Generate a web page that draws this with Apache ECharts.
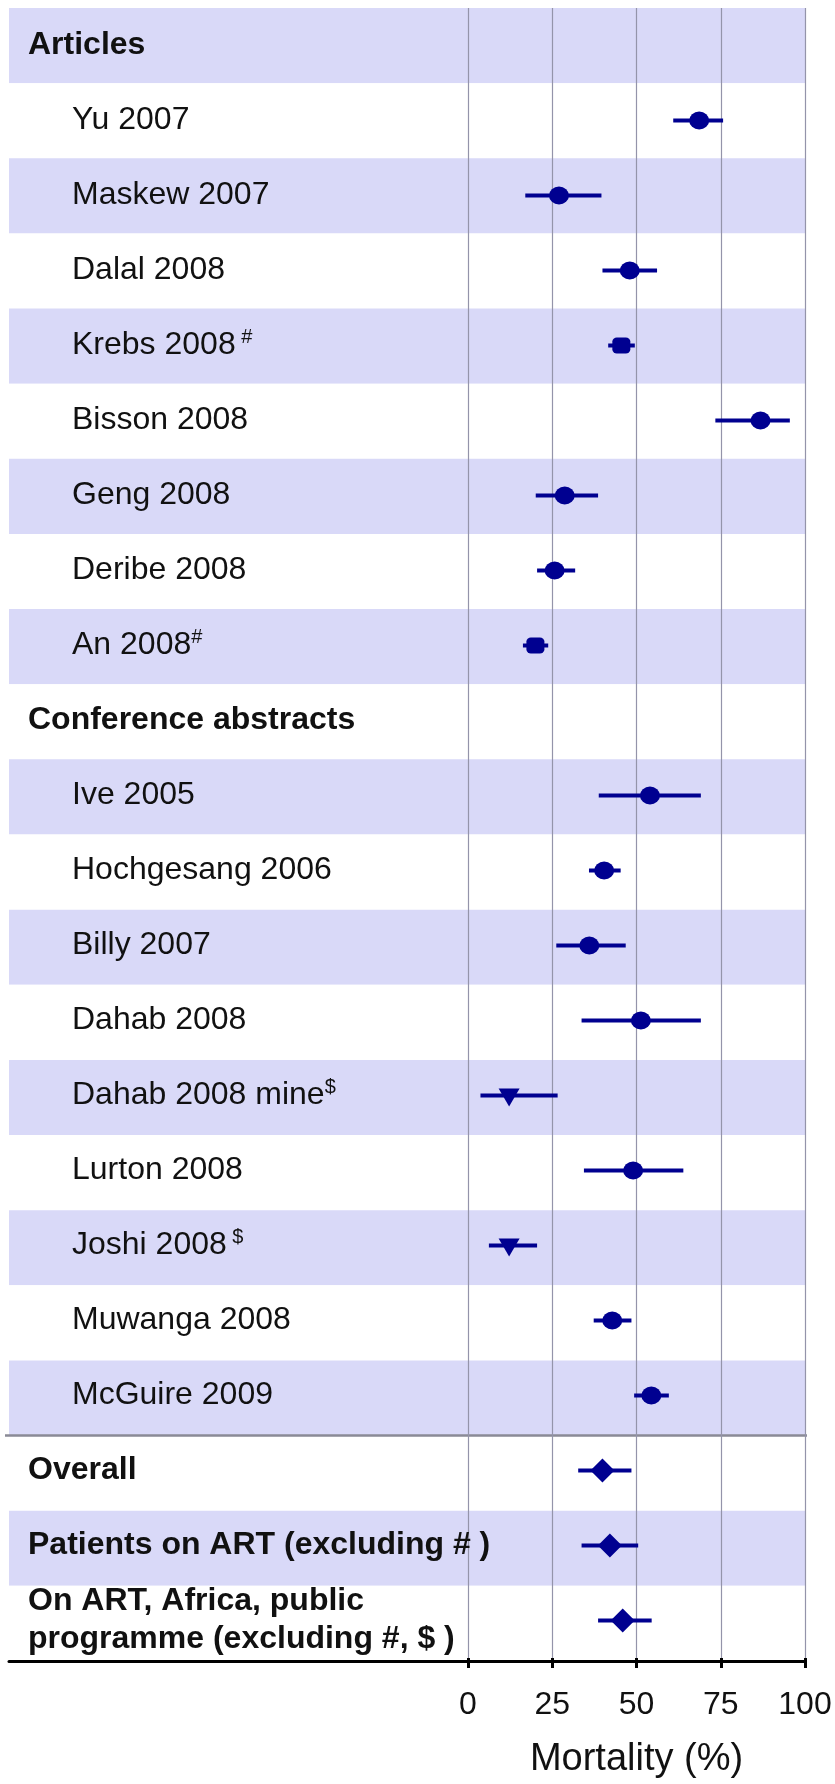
<!DOCTYPE html>
<html>
<head>
<meta charset="utf-8">
<script src="https://cdn.jsdelivr.net/npm/echarts@6/dist/echarts.min.js"></script>
<style>
html,body{margin:0;padding:0;background:#ffffff;}
#chart{width:835px;height:1784px;}
</style>
</head>
<body>
<div id="chart"></div>
<script>
// ---- data ----
const sectionTitles = ['Articles', 'Conference abstracts'];

const articleStudies = ['Yu 2007', 'Maskew 2007', 'Dalal 2008', 'Krebs 2008', 'Bisson 2008', 'Geng 2008', 'Deribe 2008', 'An 2008'];
const articleNotes   = ['', '', '', ' #', '', '', '', '#'];
const articleEst     = [68.6, 27.0, 48.0, 45.5, 86.8, 28.7, 25.7, 20.0];
const articleLow     = [60.9, 17.0, 39.9, 41.6, 73.4, 20.1, 20.5, 16.3];
const articleHigh    = [75.7, 39.6, 56.1, 49.5, 95.5, 38.6, 31.8, 23.8];

const abstractStudies = ['Ive 2005', 'Hochgesang 2006', 'Billy 2007', 'Dahab 2008', 'Dahab 2008 mine', 'Lurton 2008', 'Joshi 2008', 'Muwanga 2008', 'McGuire 2009'];
const abstractNotes   = ['', '', '', '', '$', '', ' $', '', ''];
const abstractEst     = [54.0, 40.4, 36.0, 51.3, 12.2, 49.0, 12.2, 42.8, 54.4];
const abstractLow     = [38.8, 35.9, 26.2, 33.7, 3.7, 34.4, 6.2, 37.3, 49.3];
const abstractHigh    = [69.1, 45.3, 46.8, 69.1, 26.6, 63.9, 20.5, 48.5, 59.6];

const summaryLabels = ['Overall', 'Patients on ART (excluding # )', 'On ART, Africa, public\nprogramme (excluding #, $ )'];
const summaryEst    = [39.9, 42.1, 45.9];
const summaryLow    = [32.7, 33.7, 38.6];
const summaryHigh   = [48.5, 50.5, 54.5];

const xTickValues = [0, 25, 50, 75, 100];
const xAxisTitle = 'Mortality (%)';

// ---- build rows ----
const rows = [];
rows.push({label: sectionTitles[0], kind: 'header'});
articleStudies.forEach((n, i) => rows.push({label: n, note: articleNotes[i], kind: 'study', est: articleEst[i], lo: articleLow[i], hi: articleHigh[i]}));
rows.push({label: sectionTitles[1], kind: 'header'});
abstractStudies.forEach((n, i) => rows.push({label: n, note: abstractNotes[i], kind: 'study', est: abstractEst[i], lo: abstractLow[i], hi: abstractHigh[i]}));
const summaryStart = rows.length;
summaryLabels.forEach((n, i) => rows.push({label: n, kind: 'summary', est: summaryEst[i], lo: summaryLow[i], hi: summaryHigh[i]}));

const categories = rows.map(r => r.label + (r.note || ''));

const NAVY = '#000090';
const FONT = "'Liberation Sans', Arial, Helvetica, sans-serif";

function markerFor(r) {
  if (r.kind === 'summary') return {symbol: 'diamond', symbolSize: [24, 24]};
  const n = (r.note || '').trim();
  if (n === '#') return {symbol: 'roundRect', symbolSize: [18, 16]};
  if (n === '$') return {symbol: 'triangle', symbolSize: [21, 18], symbolRotate: 180, symbolOffset: [0, 2]};
  return {symbol: 'circle', symbolSize: [20, 18]};
}

const ciData = [];
const pointData = [];
rows.forEach((r, i) => {
  if (r.est === undefined) return;
  ciData.push([r.lo, r.hi, i]);
  pointData.push(Object.assign({value: [r.est, i]}, markerFor(r)));
});

const chart = echarts.init(document.getElementById('chart'), null, {renderer: 'canvas'});

const gridTop = 8;
const gridBottom = 123;

const option = {
  animation: false,
  backgroundColor: '#ffffff',
  textStyle: {fontFamily: FONT},
  grid: [
    {left: 468, right: 30, top: gridTop, bottom: gridBottom, containLabel: false},
    {left: 9, right: 30, top: gridTop, bottom: gridBottom, containLabel: false}
  ],
  xAxis: [
    {
      gridIndex: 0, type: 'value', min: xTickValues[0], max: xTickValues[xTickValues.length - 1],
      interval: xTickValues[1] - xTickValues[0], z: 3,
      axisLine: {show: false, onZero: false},
      axisTick: {show: true, length: 10, lineStyle: {color: '#000', width: 3}},
      axisLabel: {fontSize: 32, color: '#111', fontFamily: FONT, margin: 31},
      splitLine: {show: true, lineStyle: {color: '#9494aa', width: 1.2}},
      name: xAxisTitle, nameLocation: 'middle', nameGap: 83,
      nameTextStyle: {fontSize: 38, color: '#111', fontFamily: FONT}
    },
    {
      gridIndex: 1, type: 'value', min: 0, max: 1, z: 2,
      axisLine: {show: true, onZero: false, lineStyle: {color: '#000', width: 3}},
      axisTick: {show: false}, axisLabel: {show: false}, splitLine: {show: false}
    }
  ],
  yAxis: [
    {
      gridIndex: 0, type: 'category', inverse: true, data: categories, z: 4,
      axisLine: {show: false}, axisTick: {show: false}, splitLine: {show: false},
      axisLabel: {
        interval: 0, align: 'left', margin: 440,
        formatter: function (value, index) {
          const r = rows[index];
          if (r.kind !== 'study') {
            return r.label.split('\n').map(l => '{h|' + l + '}').join('\n');
          }
          return '{s|' + r.label + '}' + (r.note ? '{sup|' + r.note + '}' : '');
        },
        rich: {
          h: {fontSize: 32, fontWeight: 'bold', color: '#111', fontFamily: FONT, lineHeight: 38},
          s: {fontSize: 32, color: '#111', fontFamily: FONT, lineHeight: 36, padding: [0, 0, 0, 44]},
          sup: {fontSize: 20, color: '#111', fontFamily: FONT, lineHeight: 20, verticalAlign: 'top'}
        }
      }
    },
    {
      gridIndex: 1, type: 'value', inverse: true, min: 0, max: rows.length, interval: 1, z: 0,
      axisLine: {show: false}, axisTick: {show: false}, axisLabel: {show: false},
      splitLine: {show: false},
      splitArea: {show: true, areaStyle: {color: ['#d9d9f8', '#ffffff']}}
    }
  ],
  series: [
    {
      type: 'custom', xAxisIndex: 1, yAxisIndex: 1, z: 2,
      data: [[0, 1, summaryStart]],
      encode: {x: [0, 1], y: 2},
      renderItem: function (params, api) {
        const p1 = api.coord([api.value(0), api.value(2)]);
        const p2 = api.coord([api.value(1), api.value(2)]);
        return {type: 'line', shape: {x1: p1[0] - 4, y1: p1[1], x2: p2[0] + 2, y2: p2[1]},
          style: {stroke: '#8a8a96', lineWidth: 2.5}};
      }
    },
    {
      type: 'custom', xAxisIndex: 0, yAxisIndex: 0, z: 5,
      data: ciData,
      encode: {x: [0, 1], y: 2},
      renderItem: function (params, api) {
        const y = api.value(2);
        const p1 = api.coord([api.value(0), y]);
        const p2 = api.coord([api.value(1), y]);
        return {type: 'line', shape: {x1: p1[0], y1: p1[1], x2: p2[0], y2: p2[1]},
          style: {stroke: NAVY, lineWidth: 4}};
      }
    },
    {
      type: 'scatter', xAxisIndex: 0, yAxisIndex: 0, z: 6,
      data: pointData,
      itemStyle: {color: NAVY, opacity: 1}
    }
  ]
};
chart.setOption(option);
</script>
</body>
</html>
